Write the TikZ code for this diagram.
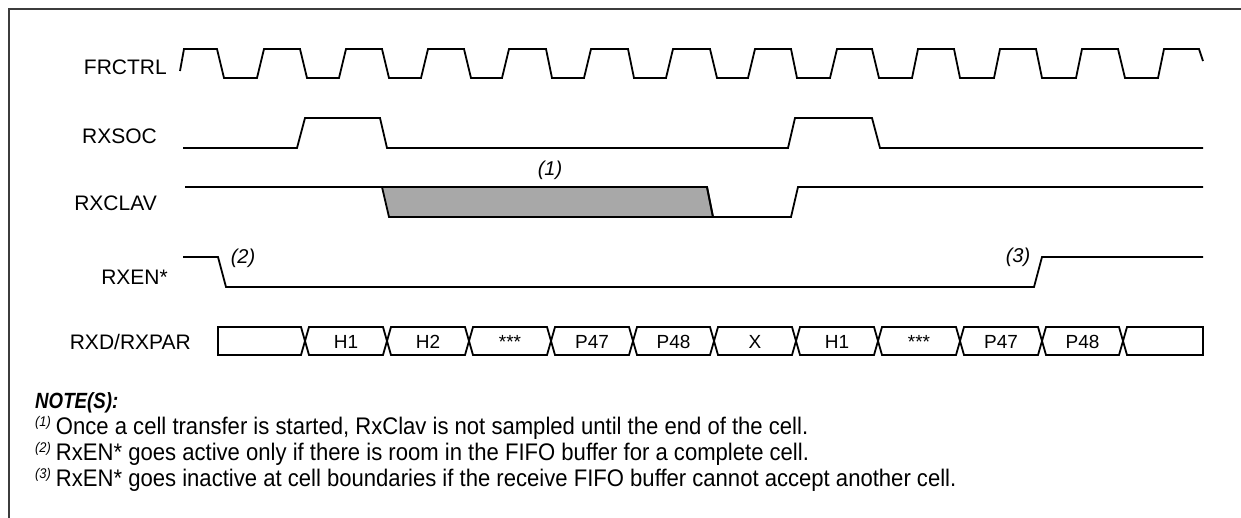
\documentclass[tikz,border=0pt]{standalone}
\usepackage{fontspec}
\setmainfont{Liberation Sans}
\newfontfamily\notefont[FakeStretch=0.92]{Liberation Sans}
\newfontfamily\headfont[FakeStretch=0.85]{Liberation Sans}
\definecolor{grisMarco}{HTML}{3C3C3C}
\definecolor{grisSombra}{HTML}{A8A8A8}
\newcommand{\notenum}[1]{\raisebox{8pt}{\fontsize{14}{16}\selectfont\itshape(#1)}\hspace{5pt}}

\begin{document}
\begin{tikzpicture}[
        x=1pt,
        y=-1pt,
        sig/.style={line width=1.8pt, black},
        bus/.style={line width=1.8pt, black},
        marco/.style={line width=1.4pt, grisMarco},
        lbl/.style={font=\fontsize{21}{25}\selectfont, anchor=base east, inner sep=0pt},
        celda/.style={font=\fontsize{19}{23}\selectfont, anchor=base, inner sep=0pt},
        ref/.style={font=\fontsize{20}{24}\selectfont\itshape, inner sep=0pt},
        nota/.style={font=\notefont\fontsize{24}{28}\selectfont, anchor=base west, inner sep=0pt}
    ]
        \useasboundingbox (0,0) rectangle (1241,518);
        % Marco (abierto a la derecha y abajo)
        \draw[marco] (9,518) -- (9,9) -- (1241,9);

        % Nombres de las señales
        \node[lbl] (lFRCTRL) at (167,75) {FRCTRL};
        \node[lbl] (lRXSOC) at (157,144) {RXSOC};
        \node[lbl] (lRXCLAV) at (157,211) {RXCLAV};
        \node[lbl] (lRXEN) at (168,285) {RXEN*};
        \node[lbl] (lRXD) at (191,349) {RXD/RXPAR};

        % FRCTRL
        \draw[sig] (180,71) -- (184,49) -- (217,49) -- (224,78)
            -- (257,78) -- (264,49) -- (300,49) -- (307,78)
            -- (339,78) -- (346,49) -- (382,49) -- (389,78)
            -- (421,78) -- (428,49) -- (464,49) -- (471,78)
            -- (502,78) -- (509,49) -- (546,49) -- (552,78)
            -- (584,78) -- (591,49) -- (628,49) -- (634,78)
            -- (666,78) -- (673,49) -- (710,49) -- (717,78)
            -- (748,78) -- (755,49) -- (791,49) -- (797,78)
            -- (830,78) -- (837,49) -- (872,49) -- (879,78)
            -- (912,78) -- (918,49) -- (954,49) -- (960,78)
            -- (994,78) -- (1000,49) -- (1036,49) -- (1042,78)
            -- (1076,78) -- (1082,49) -- (1118,49) -- (1125,78)
            -- (1158,78) -- (1164,49) -- (1199,49) -- (1203,61);

        % RXSOC
        \draw[sig] (183,148) -- (297,148) -- (305,118) -- (380,118) -- (387,148)
            -- (788,148) -- (795,118) -- (872,118) -- (880,148) -- (1203,148);

        % RXCLAV: zona no muestreada en gris
        \filldraw[sig, fill=grisSombra] (382,187) -- (707,187) -- (713,217) -- (389,217) -- cycle;
        \draw[sig] (185,187) -- (707,187) -- (713,217) -- (791,217) -- (798,187) -- (1203,187);
        \node[ref] (ref1) at (550,170) {(1)};

        % RXEN*
        \draw[sig] (183,257) -- (218,257) -- (226,287) -- (1034,287) -- (1042,257) -- (1203,257);
        \node[ref] (ref2) at (243,258) {(2)};
        \node[ref] (ref3) at (1018,257) {(3)};

        % RXD/RXPAR
        \draw[bus] (218,327) -- (301,327) -- (305,341) -- (301,355) -- (218,355) -- cycle;
        \draw[bus] (305,341) -- (309,327) -- (383,327) -- (387,341) -- (383,355) -- (309,355) -- cycle;
        \draw[bus] (387,341) -- (391,327) -- (465,327) -- (469,341) -- (465,355) -- (391,355) -- cycle;
        \draw[bus] (469,341) -- (473,327) -- (547,327) -- (551,341) -- (547,355) -- (473,355) -- cycle;
        \draw[bus] (551,341) -- (555,327) -- (629,327) -- (633,341) -- (629,355) -- (555,355) -- cycle;
        \draw[bus] (633,341) -- (637,327) -- (710,327) -- (714,341) -- (710,355) -- (637,355) -- cycle;
        \draw[bus] (714,341) -- (718,327) -- (792,327) -- (796,341) -- (792,355) -- (718,355) -- cycle;
        \draw[bus] (796,341) -- (800,327) -- (874,327) -- (878,341) -- (874,355) -- (800,355) -- cycle;
        \draw[bus] (878,341) -- (882,327) -- (956,327) -- (960,341) -- (956,355) -- (882,355) -- cycle;
        \draw[bus] (960,341) -- (964,327) -- (1038,327) -- (1042,341) -- (1038,355) -- (964,355) -- cycle;
        \draw[bus] (1042,341) -- (1046,327) -- (1119,327) -- (1123,341) -- (1119,355) -- (1046,355) -- cycle;
        \draw[bus] (1123,341) -- (1127,327) -- (1203,327) -- (1203,355) -- (1127,355) -- cycle;
        \node[celda] (c1) at (346,348) {H1};
        \node[celda] (c2) at (428,348) {H2};
        \node[celda] (c3) at (510,348) {***};
        \node[celda] (c4) at (592,348) {P47};
        \node[celda] (c5) at (673.5,348) {P48};
        \node[celda] (c6) at (755,348) {X};
        \node[celda] (c7) at (837,348) {H1};
        \node[celda] (c8) at (919,348) {***};
        \node[celda] (c9) at (1001,348) {P47};
        \node[celda] (c10) at (1082.5,348) {P48};

        % Notas
        \node[anchor=base west, inner sep=0pt, font=\headfont\fontsize{22}{26}\selectfont\bfseries\itshape] (nota) at (35,408) {NOTE(S):};
        \node[nota] (n1) at (35,434) {\notenum{1}Once a cell transfer is started, RxClav is not sampled until the end of the cell.};
        \node[nota] (n2) at (35,460) {\notenum{2}RxEN* goes active only if there is room in the FIFO buffer for a complete cell.};
        \node[nota] (n3) at (35,486) {\notenum{3}RxEN* goes inactive at cell boundaries if the receive FIFO buffer cannot accept another cell.};
    \end{tikzpicture}
\end{document}
